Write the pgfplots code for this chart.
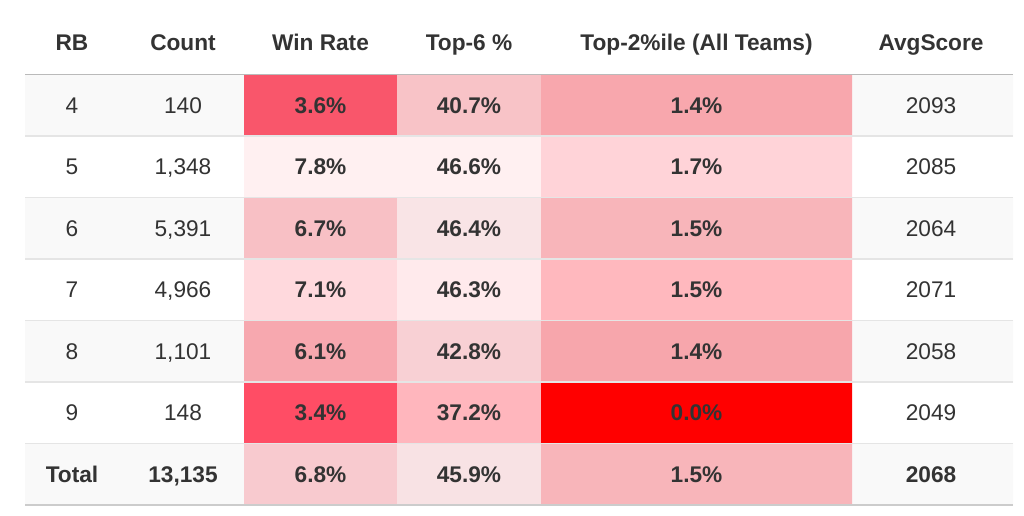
\documentclass[border=0pt]{standalone}
\usepackage{fontspec}
\setmainfont{Liberation Sans}
\usepackage{pgfplots}
\pgfplotsset{compat=1.18}

\definecolor{txt}{HTML}{333333}
\definecolor{rowbg}{HTML}{F9F9F9}
% win rate
\definecolor{wA}{HTML}{F9566B}
\definecolor{wB}{HTML}{FFF0F1}
\definecolor{wC}{HTML}{F8C0C5}
\definecolor{wD}{HTML}{FFD9DD}
\definecolor{wE}{HTML}{F7A8AF}
\definecolor{wF}{HTML}{FF4D65}
\definecolor{wT}{HTML}{F8CACF}
% top-6
\definecolor{sA}{HTML}{F8C3C7}
\definecolor{sB}{HTML}{FFF0F1}
\definecolor{sC}{HTML}{F9E4E6}
\definecolor{sD}{HTML}{FFEAEC}
\definecolor{sE}{HTML}{F8D0D4}
\definecolor{sF}{HTML}{FFB6BD}
\definecolor{sT}{HTML}{F8E2E4}
% top-2%ile
\definecolor{pA}{HTML}{F8A7AD}
\definecolor{pB}{HTML}{FFD3D8}
\definecolor{pC}{HTML}{F8B5BA}
\definecolor{pD}{HTML}{FFB8BE}
\definecolor{pE}{HTML}{F7A6AC}
\definecolor{pF}{HTML}{FF0000}
\definecolor{pT}{HTML}{F8B5BA}

% one filled cell: x0, x1, y0, y1, colour
\newcommand{\cell}[5]{%
  \addplot[fill=#5,draw=none,mark=none] coordinates {(#1,#3) (#2,#3) (#2,#4) (#1,#4) (#1,#3)};}
\newcommand{\sepline}[3]{%
  \addplot[draw=#2,line width=#3,mark=none] coordinates {(25,#1) (1013,#1)};}

\begin{document}
\begin{tikzpicture}
\begin{axis}[%
  width=768pt,height=386.25pt,scale only axis,%
  hide axis,xmin=0,xmax=1024,ymin=0,ymax=515,y dir=reverse,%
  clip=false,%
  plainText/.style={draw=none,mark=none,nodes near coords,point meta=explicit symbolic,%
    every node near coord/.append style={anchor=base,yshift=-6pt,text=txt,inner sep=0pt,
      font=\fontsize{17}{20}\selectfont}},%
  boldText/.style={draw=none,mark=none,nodes near coords,point meta=explicit symbolic,%
    every node near coord/.append style={anchor=base,yshift=-6pt,text=txt,inner sep=0pt,
      font=\fontsize{17}{20}\selectfont\bfseries}},%
]
% canvas
\cell{0}{1024}{0}{515}{white}
% striped rows (4, 6, 8, Total)
\cell{25}{1013}{74.5}{136}{rowbg}
\cell{25}{1013}{197.5}{259}{rowbg}
\cell{25}{1013}{320.5}{382}{rowbg}
\cell{25}{1013}{443.5}{505}{rowbg}

% Win Rate column
\cell{244}{397}{74.5}{136}{wA}
\cell{244}{397}{136}{197.5}{wB}
\cell{244}{397}{197.5}{259}{wC}
\cell{244}{397}{259}{320.5}{wD}
\cell{244}{397}{320.5}{382}{wE}
\cell{244}{397}{382}{443.5}{wF}
\cell{244}{397}{443.5}{505}{wT}
% Top-6 % column
\cell{397}{541}{74.5}{136}{sA}
\cell{397}{541}{136}{197.5}{sB}
\cell{397}{541}{197.5}{259}{sC}
\cell{397}{541}{259}{320.5}{sD}
\cell{397}{541}{320.5}{382}{sE}
\cell{397}{541}{382}{443.5}{sF}
\cell{397}{541}{443.5}{505}{sT}
% Top-2%ile column
\cell{541}{852}{74.5}{136}{pA}
\cell{541}{852}{136}{197.5}{pB}
\cell{541}{852}{197.5}{259}{pC}
\cell{541}{852}{259}{320.5}{pD}
\cell{541}{852}{320.5}{382}{pE}
\cell{541}{852}{382}{443.5}{pF}
\cell{541}{852}{443.5}{505}{pT}

% rules
\sepline{136}{black!10}{1.1pt}
\sepline{197.5}{black!10}{1.1pt}
\sepline{259}{black!10}{1.1pt}
\sepline{320.5}{black!10}{1.1pt}
\sepline{382}{black!10}{1.1pt}
\sepline{443.5}{black!10}{1.1pt}
\sepline{74.5}{black!27}{1.4pt}
\sepline{505}{black!20}{1.4pt}

% header
\addplot[boldText] coordinates {
  (72,42)[RB] (183,42)[Count] (320.5,42)[Win Rate] (469,42)[Top-6 \%]
  (696.5,42)[Top-2\%ile (All Teams)] (931,42)[AvgScore]};

% body, regular columns
\addplot[plainText] coordinates {
  (72,105.25)[4] (72,166.75)[5] (72,228.25)[6] (72,289.75)[7] (72,351.25)[8] (72,412.75)[9]};
\addplot[plainText] coordinates {
  (183,105.25)[140] (183,166.75)[1,348] (183,228.25)[5,391] (183,289.75)[4,966]
  (183,351.25)[1,101] (183,412.75)[148]};
\addplot[plainText] coordinates {
  (931,105.25)[2093] (931,166.75)[2085] (931,228.25)[2064] (931,289.75)[2071]
  (931,351.25)[2058] (931,412.75)[2049]};
% body, coloured columns
\addplot[boldText] coordinates {
  (320.5,105.25)[3.6\%] (320.5,166.75)[7.8\%] (320.5,228.25)[6.7\%] (320.5,289.75)[7.1\%]
  (320.5,351.25)[6.1\%] (320.5,412.75)[3.4\%]};
\addplot[boldText] coordinates {
  (469,105.25)[40.7\%] (469,166.75)[46.6\%] (469,228.25)[46.4\%] (469,289.75)[46.3\%]
  (469,351.25)[42.8\%] (469,412.75)[37.2\%]};
\addplot[boldText] coordinates {
  (696.5,105.25)[1.4\%] (696.5,166.75)[1.7\%] (696.5,228.25)[1.5\%] (696.5,289.75)[1.5\%]
  (696.5,351.25)[1.4\%] (696.5,412.75)[0.0\%]};
% total row
\addplot[boldText] coordinates {
  (72,474.25)[Total] (183,474.25)[13,135] (320.5,474.25)[6.8\%] (469,474.25)[45.9\%]
  (696.5,474.25)[1.5\%] (931,474.25)[2068]};
\end{axis}
\end{tikzpicture}
\end{document}
